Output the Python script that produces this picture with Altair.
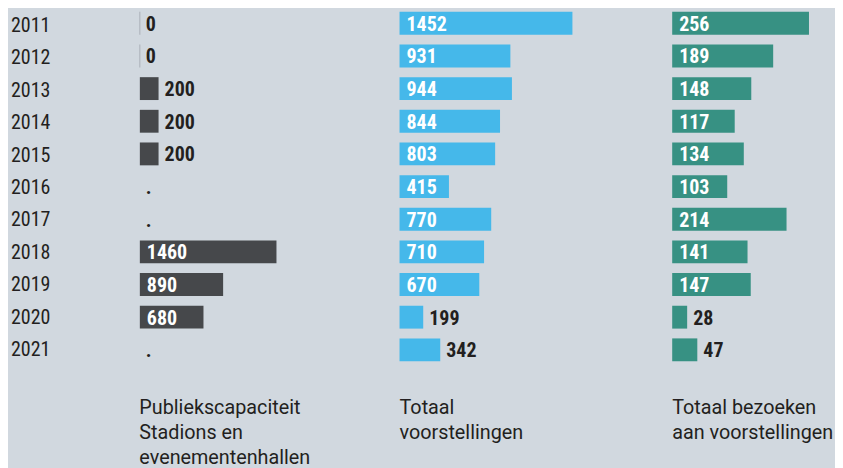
import altair as alt
import pandas as pd

years = [2011, 2012, 2013, 2014, 2015, 2016, 2017, 2018, 2019, 2020, 2021]
capaciteit = [0, 0, 200, 200, 200, None, None, 1460, 890, 680, None]
voorstellingen = [1452, 931, 944, 844, 803, 415, 770, 710, 670, 199, 342]
bezoeken = [256, 189, 148, 117, 134, 103, 214, 141, 147, 28, 47]

titles = [
    ["Publiekscapaciteit", "Stadions en", "evenementenhallen"],
    ["Totaal", "voorstellingen"],
    ["Totaal bezoeken", "aan voorstellingen"],
]

BG = "#d1d8df"
DARK = "#231f20"
FONT = "Roboto Condensed, Roboto"
TFONT = "Roboto"
H = 357
yscale = alt.Scale(paddingInner=0.3, paddingOuter=0.11)


def frame(values, threshold):
    rows = []
    for y, v in zip(years, values):
        missing = v is None
        rows.append({
            "year": y,
            "value": 0 if missing else v,
            "pos": 0 if missing else v,
            "base": 0,
            "label": "." if missing else str(v),
            "inside": (not missing) and v >= threshold,
            "zero": (not missing) and v == 0,
        })
    return pd.DataFrame(rows)


def panel(values, color, xmax, width, threshold, title):
    df = frame(values, threshold)
    base = alt.Chart(df)
    xs = alt.Scale(domain=[0, xmax], nice=False, zero=True)
    Y = alt.Y("year:O", axis=None, scale=yscale)
    bars = base.mark_bar(color=color).encode(
        x=alt.X("value:Q", scale=xs, axis=None), y=Y
    ).transform_filter("datum.value > 0")
    zero = base.mark_tick(color="#9aa0a6", thickness=1, size=23, orient="vertical").encode(
        x=alt.X("base:Q", scale=xs, axis=None), y=Y
    ).transform_filter("datum.zero")
    inside = base.mark_text(
        align="left", baseline="middle", dx=7, dy=1.5, font=FONT, fontSize=20,
        fontWeight="bold", color="white"
    ).encode(
        x=alt.X("base:Q", scale=xs, axis=None), y=Y, text="label:N"
    ).transform_filter("datum.inside")
    outside = base.mark_text(
        align="left", baseline="middle", dx=6, dy=1.5, font=FONT, fontSize=20,
        fontWeight="bold", color=DARK
    ).encode(
        x=alt.X("pos:Q", scale=xs, axis=None), y=Y, text="label:N"
    ).transform_filter("!datum.inside")
    return alt.layer(bars, zero, inside, outside).properties(
        width=width, height=H,
        title=alt.TitleParams(
            text=title, orient="bottom", anchor="start", font=TFONT,
            fontSize=19.8, fontWeight="normal", color=DARK, lineHeight=25,
            offset=33,
        ),
    )


ydf = pd.DataFrame({"year": years, "base": [0] * len(years), "label": [str(y) for y in years]})
year_panel = alt.Chart(ydf).mark_text(
    align="left", baseline="middle", dx=3, dy=1.5, font=FONT, fontSize=20, color=DARK
).encode(
    x=alt.X("base:Q", scale=alt.Scale(domain=[0, 1]), axis=None),
    y=alt.Y("year:O", axis=None, scale=yscale),
    text="label:N",
).properties(width=131, height=H)

p1 = panel(capaciteit, "#46484b", 2775, 260, 400, titles[0])
p2 = panel(voorstellingen, "#45b8ea", 2290, 273, 400, titles[1])
p3 = panel(bezoeken, "#379183", 304.7, 163, 80, titles[2])

chart = alt.hconcat(year_panel, p1, p2, p3, spacing=0).properties(
    padding=0, background=BG
).configure_view(stroke=None)

chart.save("out.html", embed_options={"renderer": "svg", "actions": False})
